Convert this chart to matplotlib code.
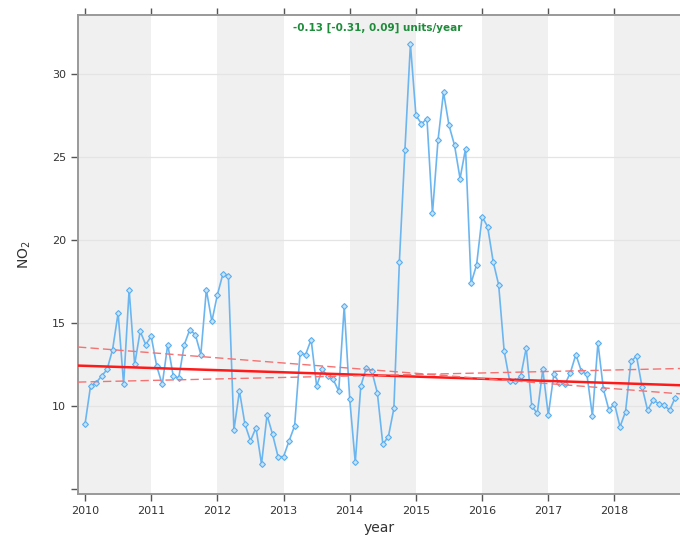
import numpy as np
import matplotlib
matplotlib.use("Agg")
import matplotlib.pyplot as plt

years = list(range(2010, 2019))
no2 = {
    2010: [8.9, 11.2, 11.4, 11.8, 12.2, 13.4, 15.6, 11.3, 17.0, 12.5, 14.5, 13.7],
    2011: [14.2, 12.4, 11.3, 13.7, 11.8, 11.7, 13.7, 14.6, 14.3, 13.1, 17.0, 15.1],
    2012: [16.7, 17.95, 17.8, 8.55, 10.9, 8.9, 7.9, 8.7, 6.5, 9.45, 8.3, 6.95],
    2013: [6.95, 7.9, 8.8, 13.2, 13.1, 14.0, 11.2, 12.2, 11.8, 11.6, 10.9, 16.0],
    2014: [10.4, 6.6, 11.2, 12.3, 12.1, 10.8, 7.7, 8.15, 9.85, 18.7, 25.4, 31.8],
    2015: [27.5, 27.0, 27.3, 21.6, 26.0, 28.9, 26.9, 25.7, 23.7, 25.5, 17.4, 18.5],
    2016: [21.4, 20.8, 18.7, 17.3, 13.3, 11.5, 11.5, 11.8, 13.5, 10.0, 9.55, 12.2],
    2017: [9.45, 11.9, 11.4, 11.3, 12.0, 13.1, 12.1, 11.9, 9.4, 13.8, 11.0, 9.75],
    2018: [10.15, 8.75, 9.65, 12.7, 13.0, 11.15, 9.75, 10.35, 10.15, 10.05, 9.75, 10.5],
}

# Theil-Sen trend (slope units/year) and level at 2010.0 for each line
trend_slope, trend_level = -0.13, 12.42
lower_slope, lower_level = -0.31, 13.52
upper_slope, upper_level = 0.09, 11.45
trend_label = "-0.13 [-0.31, 0.09] units/year"

y_ticks = [5, 10, 15, 20, 25, 30]
y_ticklabels = ["", "10", "15", "20", "25", "30"]

# ---------------------------------------------------------------
x = np.array([y + m / 12.0 for y in years for m in range(12)])
v = np.array([val for y in years for val in no2[y]])

fig = plt.figure(figsize=(6.8, 5.39), dpi=100)
ax = fig.add_axes([78 / 680, 1 - 494 / 539, 1 - 78 / 680, (494 - 15) / 539])

xmin, xmax = 2009.894, 2018.99
ymin, ymax = 4.7, 33.55
ax.set_xlim(xmin, xmax)
ax.set_ylim(ymin, ymax)

# alternating year shading
for y in years:
    if (y - 2010) % 2 == 0:
        left = xmin if y == 2010 else y
        ax.axvspan(left, y + 1, color="#f0f0f0", lw=0, zorder=0)

for yt in y_ticks[1:]:
    ax.axhline(yt, color="#e4e4e4", lw=0.9, zorder=1)

ax.plot(x, v, color="#6cb6f0", lw=1.2, marker="D", ms=3.0,
        mfc="#c6e3fa", mec="#5aaeee", mew=0.8, zorder=3)

xl = np.array([xmin, xmax])
ax.plot(xl, trend_level + trend_slope * (xl - 2010), color="#ff1a1a", lw=1.8, zorder=4)
ax.plot(xl, lower_level + lower_slope * (xl - 2010), color="#f47272", lw=1.0,
        dashes=(6, 3), zorder=4)
ax.plot(xl, upper_level + upper_slope * (xl - 2010), color="#f47272", lw=1.0,
        dashes=(6, 3), zorder=4)

ax.text(0.497, 0.974, trend_label, transform=ax.transAxes, ha="center", va="center",
        color="#1e8c3a", fontsize=7.5, fontweight="bold")

ax.set_xticks(years)
ax.set_xticklabels([str(y) for y in years])
ax.set_yticks(y_ticks)
ax.set_yticklabels(y_ticklabels)
ax.tick_params(axis="both", direction="out", length=5, width=1, color="#555555",
               labelsize=8, labelcolor="#333333")
ax.tick_params(axis="x", top=True, labeltop=False)
ax.tick_params(axis="y", right=False)

for side in ["left", "bottom", "top"]:
    ax.spines[side].set_color("#999999")
    ax.spines[side].set_linewidth(1.4)
ax.spines["right"].set_visible(False)

ax.set_ylabel("NO$_2$", fontsize=10, color="#333333", labelpad=14)
ax.set_xlabel("year", fontsize=10, color="#333333", labelpad=4)

fig.savefig("out.png", dpi=100)
